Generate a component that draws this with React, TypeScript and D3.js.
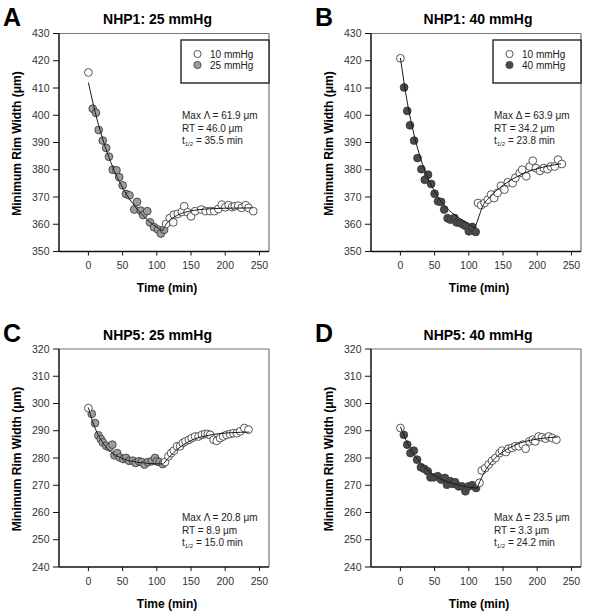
import React from "react";
import * as d3 from "d3";

// ---------- tick labels ----------
const xTicks = [0, 50, 100, 150, 200, 250];
const yTicksNHP1 = [350, 360, 370, 380, 390, 400, 410, 420, 430];
const yTicksNHP5 = [240, 250, 260, 270, 280, 290, 300, 310, 320];

// ---------- Panel A: NHP1 25 mmHg ----------
const aOpenT = [0, 113.5, 119, 124, 125, 130.6, 136.5, 140, 145, 150, 156, 165, 171.5, 178, 184, 190, 195, 200, 205, 210, 214, 219, 224, 230, 234, 241];
const aOpenV = [415.7, 360.1, 362.3, 360.7, 363.5, 363.8, 364.5, 366.6, 364.4, 362.9, 364.8, 365.4, 364.8, 364.8, 364.8, 365.6, 367.2, 366.2, 367, 366.3, 366.6, 366.8, 366, 367, 366, 364.8];
const aHighT = [6.3, 11, 15, 21, 26, 30, 35.6, 41, 45, 50, 55, 60, 67, 71, 76.5, 80, 86, 90, 96, 102, 106, 110.6];
const aHighV = [402.4, 400.9, 394.6, 390.7, 388, 384.8, 380, 379.8, 377.3, 374.3, 371.1, 370.6, 365.4, 368.2, 365, 363.4, 364.8, 360.7, 358.9, 358, 356.6, 358];
const aFitDownT = [0, 10, 20, 30, 40, 50, 60, 70, 80, 90, 100, 108];
const aFitDownV = [412, 401, 392, 384.6, 378.4, 373.4, 369.3, 365.9, 363.1, 360.8, 358.9, 357.6];
const aFitUpT = [108, 115, 125, 140, 160, 180, 200, 240];
const aFitUpV = [357.6, 360.5, 362.6, 364.3, 365.3, 365.7, 365.9, 366];

// ---------- Panel B: NHP1 40 mmHg ----------
const bOpenT = [0, 113.5, 118, 123, 127.7, 132.6, 137, 142, 147, 152, 157, 164, 168, 174.5, 178, 184, 189, 193.5, 198, 204, 209.5, 215, 220, 225.6, 230.5, 236];
const bOpenV = [420.9, 367.8, 367, 367.8, 369, 370.9, 369.6, 371.5, 374.1, 372.7, 375.4, 375.1, 377, 378.8, 380, 377.6, 381.2, 383.3, 380.6, 379.6, 380.6, 380.2, 381.2, 381.2, 383.7, 382.1];
const bHighT = [5.4, 10, 14, 20, 25, 30.7, 35.6, 40.4, 45, 50, 55, 59.5, 64, 69, 73, 79, 82, 87, 91.6, 96, 100, 105, 110];
const bHighV = [410.2, 401.6, 396.3, 390.7, 384.3, 380.2, 376.3, 378.2, 374.8, 371.2, 368.4, 368.2, 365.4, 362.2, 361.7, 362.3, 360.7, 360.5, 359.9, 359.3, 357.4, 359, 357.2];
const bFitDownT = [0, 10, 20, 30, 40, 50, 60, 70, 80, 90, 100, 109];
const bFitDownV = [421, 404.8, 392.8, 383.8, 377, 372, 368.2, 365.4, 363.3, 361.6, 360, 358.6];
const bFitUpT = [109, 115, 120, 130, 140, 150, 160, 170, 180, 190, 200, 215, 235];
const bFitUpV = [358.6, 363, 366.5, 369.8, 372.3, 374.3, 376, 377.4, 378.6, 379.6, 380.4, 381.3, 382.2];

// ---------- Panel C: NHP5 25 mmHg ----------
const cOpenT = [0, 112, 117, 121, 125, 129.6, 134, 138, 142, 147, 151, 156, 161, 166, 170.6, 174.5, 178, 183, 187.6, 192.5, 197, 202, 207, 212, 217, 222, 228, 234];
const cOpenV = [298.3, 278.5, 280.6, 281.8, 282.7, 284.3, 284.3, 285.5, 286.1, 286.7, 287.3, 287.9, 287.9, 288.5, 288.8, 288.8, 288.5, 286.7, 286.3, 287.3, 287.9, 288.5, 288.8, 289.1, 289.1, 289.8, 291, 290.4];
const cHighT = [4.9, 9.7, 14.6, 18, 21, 26, 30.7, 35, 38, 42, 46, 51, 55, 59.5, 65, 69, 74, 78, 82, 87, 92.6, 97.5, 100, 104, 108.7];
const cHighV = [296.2, 292.8, 288.3, 287, 285.7, 284.5, 283.9, 284.9, 281, 281.8, 280.2, 279.6, 280, 279, 279, 278.2, 278.8, 278.5, 277.6, 278.5, 278.8, 280, 278.8, 278.5, 277.8];
const cFitDownT = [0, 5, 10, 15, 20, 30, 40, 50, 60, 80, 110];
const cFitDownV = [298.5, 294.2, 290.8, 288.1, 286, 282.9, 281, 279.8, 279, 278.2, 277.8];
const cFitUpT = [110, 120, 130, 140, 150, 160, 175, 190, 210, 235];
const cFitUpV = [278, 280.8, 283.2, 285, 286.4, 287.4, 288.3, 288.9, 289.3, 289.5];

// ---------- Panel D: NHP5 40 mmHg ----------
const dOpenT = [0, 115.5, 119, 124, 129, 134, 139, 145, 148.6, 154.5, 158, 163, 168, 173, 179, 183, 188.6, 193.5, 197, 202, 207, 212, 217, 222, 228];
const dOpenV = [291, 270.9, 275.4, 276.3, 277.6, 279, 280, 281.8, 282.7, 282.2, 283.4, 283.7, 284.3, 284.3, 284.9, 283.4, 286.1, 286.7, 286.1, 287.9, 287.6, 287.1, 287.9, 287.3, 286.7];
const dHighT = [5, 10, 14.6, 19.5, 24.4, 30, 35, 40, 44, 48.7, 54.6, 59.5, 65, 68, 73, 77, 80, 85, 90, 95, 100, 105, 110.6];
const dHighV = [288.5, 284.9, 281.8, 282.7, 279.4, 276.6, 276, 275.1, 272.9, 272.9, 273.3, 272.1, 272.7, 270.2, 271.5, 270.5, 271.1, 269.6, 269.6, 267.8, 269.6, 270, 269];
const dFitDownT = [0, 10, 20, 30, 40, 50, 60, 70, 80, 90, 100, 112];
const dFitDownV = [291.5, 285.6, 281.3, 278, 275.5, 273.6, 272.2, 271.2, 270.4, 269.8, 269.3, 268.9];
const dFitUpT = [112, 120, 130, 140, 150, 160, 175, 190, 210, 230];
const dFitUpV = [268.9, 273.5, 277.5, 280.3, 282.3, 283.8, 285.5, 286.5, 287.3, 287.7];

// ---------- labels ----------
const panelLetters = ["A", "B", "C", "D"];
const panelTitles = ["NHP1: 25 mmHg", "NHP1: 40 mmHg", "NHP5: 25 mmHg", "NHP5: 40 mmHg"];
const lowLabel = "10 mmHg";
const highLabels = ["25 mmHg", "40 mmHg", "25 mmHg", "40 mmHg"];
const deltaSymbols = ["Λ", "Δ", "Λ", "Δ"];
const maxDeltas = ["61.9", "63.9", "20.8", "23.5"];
const rtValues = ["46.0", "34.2", "8.9", "3.3"];
const halfTimes = ["35.5", "23.8", "15.0", "24.2"];

const FONT = "'Liberation Sans', Arial, Helvetica, sans-serif";

const zip = (t: number[], v: number[]) => t.map((x, i) => [x, v[i]] as [number, number]);

const panels = [
  { open: zip(aOpenT, aOpenV), high: zip(aHighT, aHighV), fitDown: zip(aFitDownT, aFitDownV), fitUp: zip(aFitUpT, aFitUpV), yDomain: [350, 430], yTicks: yTicksNHP1 },
  { open: zip(bOpenT, bOpenV), high: zip(bHighT, bHighV), fitDown: zip(bFitDownT, bFitDownV), fitUp: zip(bFitUpT, bFitUpV), yDomain: [350, 430], yTicks: yTicksNHP1 },
  { open: zip(cOpenT, cOpenV), high: zip(cHighT, cHighV), fitDown: zip(cFitDownT, cFitDownV), fitUp: zip(cFitUpT, cFitUpV), yDomain: [240, 320], yTicks: yTicksNHP5 },
  { open: zip(dOpenT, dOpenV), high: zip(dHighT, dHighV), fitDown: zip(dFitDownT, dFitDownV), fitUp: zip(dFitUpT, dFitUpV), yDomain: [240, 320], yTicks: yTicksNHP5 },
];

const highFills = ["#9c9c9c", "#4a4a4a", "#9c9c9c", "#4a4a4a"];
const legendShown = [true, true, false, false];

function PanelView({ idx }: { idx: number }) {
  const p = panels[idx];
  const col = idx % 2;
  const row = Math.floor(idx / 2);
  const ox = col * 312;
  const oy = row * 315.5;
  const L = ox + 59;
  const T = oy + 33.5;
  const W = 210;
  const H = 218;
  const R = L + W;
  const B = T + H;
  const x = d3.scaleLinear().domain([-43, 264]).range([L, R]);
  const y = d3.scaleLinear().domain(p.yDomain).range([B, T]);
  const line = d3
    .line<[number, number]>()
    .x((d) => x(d[0]))
    .y((d) => y(d[1]))
    .curve(d3.curveMonotoneX);
  const r = 3.9;
  const cx = (L + R) / 2;
  const cy = (T + B) / 2;
  const annotX = R - 87;
  const annotY = idx < 2 ? T + 85 : T + 172;
  const legL = R - 88;
  const legT = T + 6.5;

  return (
    <g fontFamily={FONT}>
      {/* panel letter */}
      <text x={ox + 3} y={oy + 26} fontSize={25} fontWeight="bold" fill="#000">
        {panelLetters[idx]}
      </text>
      {/* title */}
      <text x={ox + 157.5 + (col ? 8.5 : 0)} y={oy + 24} fontSize={14} fontWeight="bold" textAnchor="middle" fill="#000">
        {panelTitles[idx]}
      </text>

      {/* frame */}
      <line x1={L} x2={R} y1={T} y2={T} stroke="#777" strokeWidth={1.2} />
      <line x1={R} x2={R} y1={T} y2={B} stroke="#777" strokeWidth={1.2} />
      <line x1={L} x2={L} y1={T} y2={B} stroke="#111" strokeWidth={1.5} />
      <line x1={L} x2={R} y1={B} y2={B} stroke="#111" strokeWidth={1.5} />

      {/* y ticks */}
      {p.yTicks.map((t) => (
        <g key={"y" + t}>
          <line x1={L - 6} x2={L} y1={y(t)} y2={y(t)} stroke="#111" strokeWidth={1} />
          <text x={L - 9.5} y={y(t)} dy="0.35em" fontSize={10.5} textAnchor="end" fill="#333">
            {t}
          </text>
        </g>
      ))}
      {/* x ticks */}
      {xTicks.map((t) => (
        <g key={"x" + t}>
          <line x1={x(t)} x2={x(t)} y1={B} y2={B + 4} stroke="#111" strokeWidth={1} />
          <text x={x(t)} y={B + 17.5} fontSize={10.5} textAnchor="middle" fill="#333">
            {t}
          </text>
        </g>
      ))}

      {/* axis labels */}
      <text x={cx + 3} y={B + 40.5} fontSize={12} fontWeight="bold" textAnchor="middle" fill="#000">
        Time (min)
      </text>
      <text
        transform={`translate(${ox + 20.5},${cy + 1}) rotate(-90)`}
        fontSize={12}
        fontWeight="bold"
        textAnchor="middle"
        fill="#000"
      >
        Minimum Rim Width (μm)
      </text>

      {/* points */}
      {p.high.map((d, i) => (
        <circle key={"h" + i} cx={x(d[0])} cy={y(d[1])} r={r} fill={highFills[idx]} stroke="#333" strokeWidth={0.8} />
      ))}
      {p.open.map((d, i) => (
        <circle key={"o" + i} cx={x(d[0])} cy={y(d[1])} r={r} fill="#fff" stroke="#444" strokeWidth={0.9} />
      ))}

      {/* fits */}
      <path d={line(p.fitDown) || ""} fill="none" stroke="#1a1a1a" strokeWidth={1} />
      <path d={line(p.fitUp) || ""} fill="none" stroke="#1a1a1a" strokeWidth={1} />

      {/* legend */}
      {legendShown[idx] && (
        <g>
          <rect x={legL} y={legT} width={88} height={43} fill="#fff" stroke="#222" strokeWidth={1.4} />
          <circle cx={legL + 16.5} cy={legT + 14} r={3.6} fill="#fff" stroke="#444" strokeWidth={0.9} />
          <text x={legL + 29} y={legT + 17.5} fontSize={10} fill="#222">
            {lowLabel}
          </text>
          <circle cx={legL + 16.5} cy={legT + 25} r={3.6} fill={highFills[idx]} stroke="#333" strokeWidth={0.8} />
          <text x={legL + 29} y={legT + 28.5} fontSize={10} fill="#222">
            {highLabels[idx]}
          </text>
        </g>
      )}

      {/* annotation */}
      <g fontSize={10} fill="#222">
        <text x={annotX} y={annotY}>
          {`Max ${deltaSymbols[idx]} = ${maxDeltas[idx]} μm`}
        </text>
        <text x={annotX} y={annotY + 13}>
          {`RT = ${rtValues[idx]} μm`}
        </text>
        <text x={annotX} y={annotY + 25}>
          t<tspan fontSize={6} dy={2}>1/2</tspan>
          <tspan dy={-2}>{` = ${halfTimes[idx]} min`}</tspan>
        </text>
      </g>
    </g>
  );
}

export default function App() {
  return (
    <svg
      width={590}
      height={615}
      viewBox="0 0 590 615"
      style={{ position: "absolute", left: 0, top: 0, background: "#fff" }}
    >
      <rect x={0} y={0} width={590} height={615} fill="#fff" />
      {[0, 1, 2, 3].map((i) => (
        <PanelView key={i} idx={i} />
      ))}
    </svg>
  );
}
